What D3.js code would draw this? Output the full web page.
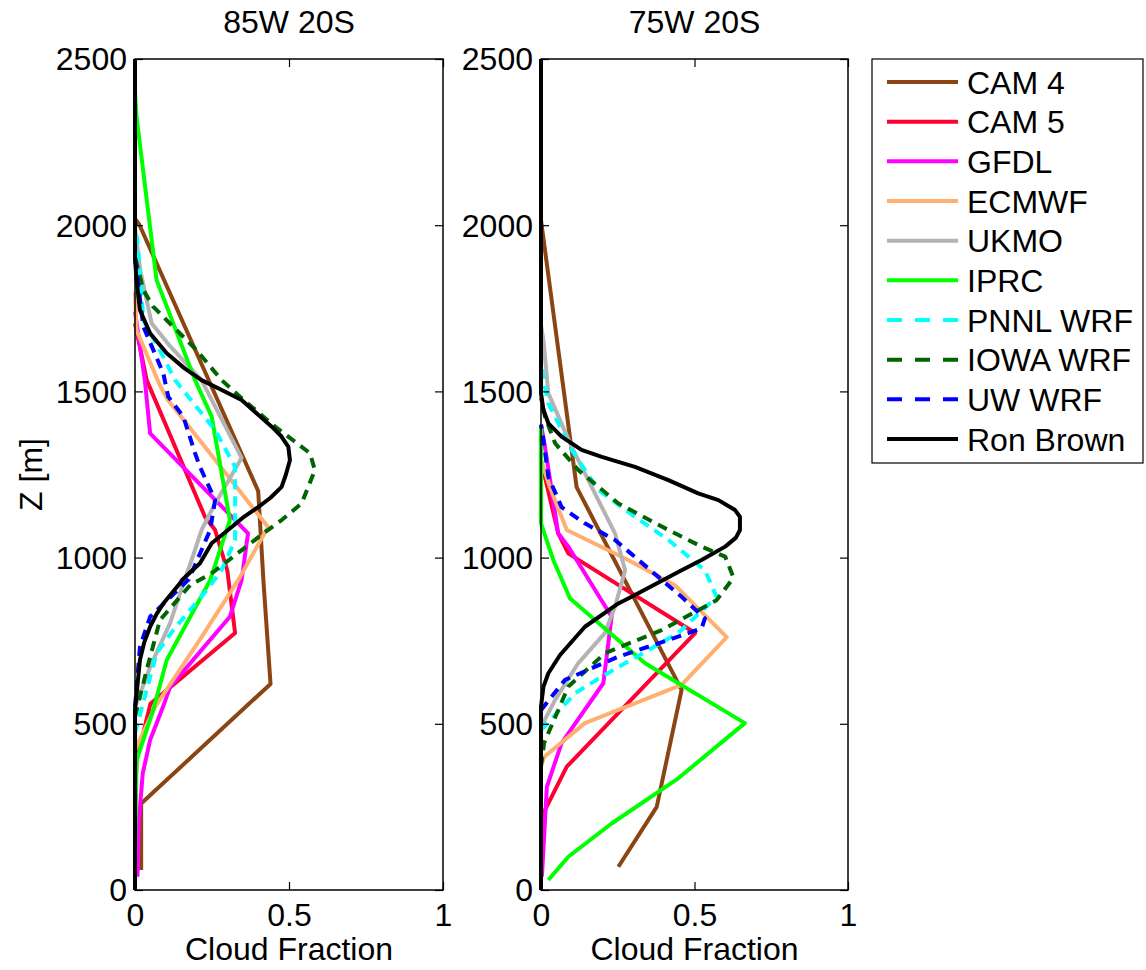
<!DOCTYPE html>
<html>
<head>
<meta charset="utf-8">
<script src="https://cdn.jsdelivr.net/npm/d3@7"></script>
<style>
  body { margin: 0; background: #fff; }
  text { font-family: "Liberation Sans", Arial, sans-serif; fill: #000; }
</style>
</head>
<body>
<div id="chart"></div>
<script>
// legend names and panel titles
const models = ["CAM 4", "CAM 5", "GFDL", "ECMWF", "UKMO", "IPRC", "PNNL WRF", "IOWA WRF", "UW WRF", "Ron Brown"];
const panelTitles = ["85W 20S", "75W 20S"];
const yTicks = [0, 500, 1000, 1500, 2000, 2500];
const xTicks = [0, 0.5, 1];

// profiles: [cloud fraction, height in m]
// 85W 20S
const cam4W85 = [[0.02,60],[0.02,260],[0.44,620],[0.417,930],[0.40,1200],[0.015,2000],[0,2020]];
const cam5W85 = [[0,250],[0.005,390],[0.05,560],[0.325,773],[0.30,960],[0.26,1083],[0.227,1123],[0.038,1534],[0,1705]];
const gfdlW85 = [[0.008,40],[0.012,200],[0.025,350],[0.049,451],[0.091,551],[0.114,611],[0.308,822],[0.346,932],[0.367,1073],[0.049,1374],[0.032,1534],[0,1740]];
const ecmwfW85 = [[0,421],[0.065,550],[0.216,761],[0.335,932],[0.432,1092],[0.107,1474],[0.08,1520],[0.005,1684],[0,1800]];
const ukmoW85 = [[0,550],[0.049,671],[0.114,803],[0.157,923],[0.184,993],[0.216,1083],[0.254,1152],[0.346,1300],[0.216,1534],[0.11,1640],[0.054,1705],[0.017,1865],[0,1990]];
const iprcW85 = [[0,100],[0.005,390],[0.059,541],[0.103,692],[0.244,932],[0.308,1113],[0.249,1424],[0.195,1534],[0.07,1835],[0.005,2326],[0,2400]];
const pnnlW85 = [[0,472],[0.07,712],[0.124,782],[0.233,902],[0.281,962],[0.325,1053],[0.325,1273],[0.26,1384],[0.13,1534],[0.092,1604],[0.027,1715],[0.01,1935],[0,2000]];
const iowaW85 = [[0,521],[0.038,662],[0.081,812],[0.179,917],[0.249,953],[0.276,972],[0.417,1073],[0.476,1113],[0.541,1163],[0.584,1263],[0.568,1314],[0.455,1394],[0.341,1484],[0.281,1534],[0.2,1624],[0.059,1755],[0.027,1805],[0,1905]];
const uwW85 = [[0,551],[0.016,731],[0.049,822],[0.175,935],[0.244,1083],[0.26,1173],[0.211,1273],[0.195,1314],[0.157,1424],[0.108,1484],[0.092,1554],[0.027,1695],[0.01,1825],[0,1900],[0,2170]];
const ronW85 = [[0,0],[0,541],[0.016,692],[0.03,745],[0.049,792],[0.07,830],[0.092,862],[0.146,923],[0.152,932],[0.211,983],[0.249,1043],[0.265,1055],[0.314,1092],[0.35,1120],[0.4,1152],[0.44,1180],[0.476,1213],[0.49,1250],[0.503,1293],[0.498,1333],[0.475,1365],[0.444,1394],[0.4,1430],[0.346,1474],[0.28,1505],[0.216,1534],[0.16,1570],[0.103,1615],[0.049,1675],[0.016,1745],[0.005,1835],[0,1900],[0,2500]];
// 75W 20S
const cam4W75 = [[0.252,70],[0.377,250],[0.458,602],[0.116,1212],[0,2015]];
const cam5W75 = [[0,150],[0.007,230],[0.084,371],[0.502,773],[0.122,993],[0.089,1013],[0.056,1073],[0,1293]];
const gfdlW75 = [[0.003,40],[0.019,310],[0.067,442],[0.203,622],[0.23,822],[0.116,993],[0.089,1033],[0.056,1073],[0.013,1333],[0,1400]];
const ecmwfW75 = [[0.003,380],[0.01,400],[0.143,502],[0.458,617],[0.605,761],[0.436,917],[0.284,993],[0.084,1083],[0.029,1212],[0,1293]];
const ukmoW75 = [[0,490],[0.046,572],[0.121,682],[0.208,773],[0.241,852],[0.274,962],[0.241,1073],[0.198,1152],[0.1,1333],[0.024,1494],[0.008,1654],[0,1700]];
const iprcW75 = [[0.024,30],[0.089,100],[0.23,200],[0.447,336],[0.664,502],[0.339,682],[0.094,878],[0.04,993],[0,1103],[0,1400]];
const pnnlW75 = [[0,481],[0.111,592],[0.198,642],[0.274,682],[0.447,773],[0.572,882],[0.534,962],[0.415,1053],[0.306,1123],[0.187,1203],[0.1,1324],[0.024,1464],[0.008,1534],[0,1600]];
const iowaW75 = [[0,370],[0.01,442],[0.089,612],[0.208,712],[0.393,782],[0.572,872],[0.621,932],[0.626,942],[0.6,1003],[0.523,1033],[0.415,1083],[0.252,1163],[0.122,1263],[0.046,1344],[0.013,1424],[0,1480]];
const uwW75 = [[0,541],[0.078,632],[0.252,702],[0.415,752],[0.523,787],[0.534,817],[0.458,882],[0.382,942],[0.241,1053],[0.143,1103],[0.067,1152],[0.024,1243],[0.008,1354],[0,1400]];
const ronW75 = [[0,0],[0,551],[0.008,612],[0.024,652],[0.062,707],[0.143,792],[0.252,862],[0.295,882],[0.415,941],[0.458,962],[0.523,993],[0.6,1033],[0.635,1060],[0.648,1083],[0.648,1123],[0.632,1143],[0.578,1173],[0.512,1193],[0.415,1233],[0.306,1273],[0.198,1303],[0.132,1324],[0.067,1364],[0.024,1404],[0.008,1444],[0,1494],[0,2500]];

const panel85 = [cam4W85, cam5W85, gfdlW85, ecmwfW85, ukmoW85, iprcW85, pnnlW85, iowaW85, uwW85, ronW85];
const panel75 = [cam4W75, cam5W75, gfdlW75, ecmwfW75, ukmoW75, iprcW75, pnnlW75, iowaW75, uwW75, ronW75];

const colors = ["#8b4513", "#ff0033", "#ff00ff", "#ffb070", "#b3b3b3", "#00ff00", "#00ffff", "#006400", "#0000ff", "#000000"];
const dashed = [false, false, false, false, false, false, true, true, true, false];

const width = 1146;
const height = 970;
const plotTop = 59, plotBottom = 890;

const svg = d3.select("#chart").append("svg")
  .attr("width", width)
  .attr("height", height);

const y = d3.scaleLinear().domain([0, 2500]).range([plotBottom, plotTop]);

function drawPanel(left, right, title, profiles, showYLabel) {
  const x = d3.scaleLinear().domain([0, 1]).range([left, right]);
  const g = svg.append("g");

  const line = d3.line()
    .x(d => x(d[0]))
    .y(d => y(d[1]));

  profiles.forEach((p, i) => {
    g.append("path")
      .datum(p)
      .attr("d", line)
      .attr("fill", "none")
      .attr("stroke", colors[i])
      .attr("stroke-width", 4)
      .attr("stroke-linejoin", "round")
      .attr("stroke-dasharray", dashed[i] ? "10,7" : null);
  });

  // frame
  g.append("rect")
    .attr("x", left).attr("y", plotTop)
    .attr("width", right - left).attr("height", plotBottom - plotTop)
    .attr("fill", "none").attr("stroke", "#000").attr("stroke-width", 1.5);

  const yAxis = g.append("g")
    .attr("transform", `translate(${left},0)`)
    .call(d3.axisLeft(y).tickValues(yTicks).tickSize(-8).tickPadding(8).tickFormat(d3.format("d")));
  g.append("g")
    .attr("transform", `translate(${right},0)`)
    .call(d3.axisRight(y).tickValues(yTicks).tickSize(-8).tickFormat(""));
  const xAxis = g.append("g")
    .attr("transform", `translate(0,${plotBottom})`)
    .call(d3.axisBottom(x).tickValues(xTicks).tickSize(-8).tickPadding(13).tickFormat(d => d === 0.5 ? "0.5" : d3.format("d")(d)));
  g.append("g")
    .attr("transform", `translate(0,${plotTop})`)
    .call(d3.axisTop(x).tickValues(xTicks).tickSize(-8).tickFormat(""));

  g.selectAll(".domain").remove();
  g.selectAll(".tick line").attr("stroke", "#000").attr("stroke-width", 1.2);
  g.selectAll(".tick text").attr("font-size", 32).attr("font-family", '"Liberation Sans", Arial, sans-serif').attr("fill", "#000");
  yAxis.selectAll(".tick text").attr("dy", "0.34em");
  xAxis.selectAll(".tick text").attr("dy", "0.71em");

  g.append("text")
    .attr("x", (left + right) / 2).attr("y", 33)
    .attr("text-anchor", "middle").attr("font-size", 32)
    .text(title);

  g.append("text")
    .attr("x", (left + right) / 2).attr("y", 960)
    .attr("text-anchor", "middle").attr("font-size", 32)
    .text("Cloud Fraction");

  if (showYLabel) {
    g.append("text")
      .attr("transform", `translate(42,${(plotTop + plotBottom) / 2}) rotate(-90)`)
      .attr("text-anchor", "middle").attr("font-size", 32)
      .text("Z [m]");
  }
}

drawPanel(135, 443, panelTitles[0], panel85, true);
drawPanel(541, 848, panelTitles[1], panel75, false);

// legend
const legend = svg.append("g");
legend.append("rect")
  .attr("x", 872).attr("y", 59)
  .attr("width", 271).attr("height", 404)
  .attr("fill", "#fff").attr("stroke", "#000").attr("stroke-width", 1.2);

const rowY = d3.scaleLinear().domain([0, models.length - 1]).range([82, 439]);

models.forEach((m, i) => {
  legend.append("line")
    .attr("x1", 887).attr("x2", 958)
    .attr("y1", rowY(i)).attr("y2", rowY(i))
    .attr("stroke", colors[i]).attr("stroke-width", 4)
    .attr("stroke-dasharray", dashed[i] ? "15,13" : null);
  legend.append("text")
    .attr("x", 967).attr("y", rowY(i))
    .attr("dy", "0.36em")
    .attr("font-size", 32)
    .text(m);
});
</script>
</body>
</html>
